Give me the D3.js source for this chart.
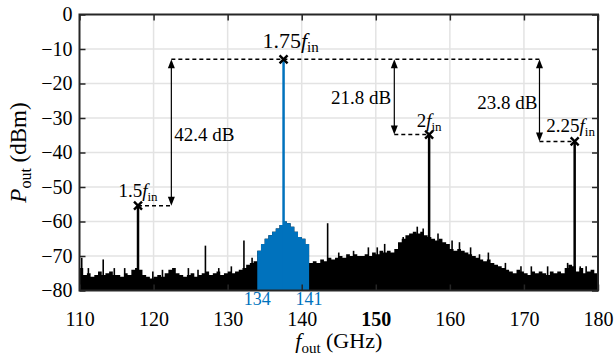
<!DOCTYPE html>
<html>
<head>
<meta charset="utf-8">
<script src="https://cdn.jsdelivr.net/npm/d3@7"></script>
<style>
  body { margin: 0; background: #fff; }
  svg, svg text { font-family: 'Liberation Serif', 'Times New Roman', Times, serif; }
  svg { display: block; }
</style>
</head>
<body>
<svg id="chart" width="614" height="356"></svg>
<script>
// axis ticks
const xTicks = [110, 120, 130, 140, 150, 160, 170, 180];
const yTicks = [0, -10, -20, -30, -40, -50, -60, -70, -80];

// noise floor, one value per 0.5 GHz bin starting at 110 GHz (dBm)
const floorStart = 110;
const floorStep = 0.5;
const floorPower = [
  -73.5, -75.5, -75, -76, -75.5, -74.5, -75.5, -75, -74.5, -75.5, -75.5, -76, -75, -75.5, -74, -73.5,
  -74, -75.5, -76, -76.5, -76, -75.5, -76, -75, -74, -73.5, -75, -75.5, -76, -75.5, -75, -76,
  -75.5, -75, -74.5, -75.5, -75, -74.5, -75.5, -75, -74.5, -75, -74.5, -74, -73.5, -72.5, -72, -71.5,
  -68.5, -66.5, -65, -64, -63, -62, -61, -60, -60.5, -61.5, -63, -64.5, -65, -66.5,
  -72, -71.5, -72, -71, -71.5, -70.5, -71, -70.5, -70, -70.5, -69.5, -70, -69.5, -70,
  -70, -69.5, -70, -69, -69.5, -68.5, -69, -68.5, -69, -68, -66, -65, -64, -63.5, -63, -63.5, -63, -64,
  -64.5, -65, -65.5, -65, -66, -66.5, -68, -68.5, -68, -68.5, -69, -69.5, -70, -70.5, -71, -71.5, -71, -72, -72.5, -73,
  -73.5, -74, -74.5, -75, -74, -74.5, -75, -75.5, -74.5, -75, -74.5, -75, -75.5, -74.5, -75, -74.5, -75, -73.5, -72.5, -73,
  -74.5, -73.5, -75, -74.5, -74, -75
];

// the band that is highlighted (GHz)
const bandEdges = [134, 141];

// narrow spurs above the floor
const spurFreq = [
  110.3, 111.2, 113.2, 114.7, 116.1, 119.9, 121.2, 124.7, 126.0, 127.0, 128.8, 130.5, 132.2, 133.3,
  143.5, 145.0, 147.0, 149.0, 150.2, 151.2, 153.7, 155.6, 156.4, 158.4, 160.3, 161.3, 162.8, 164.0,
  165.2, 167.5, 169.6, 171.0, 173.2, 175.9, 177.6, 178.4
];
const spurPower = [
  -70.5, -73.5, -71, -73.5, -73.5, -74.5, -74, -73.5, -74, -67, -73.5, -73, -65.5, -70.5,
  -60.5, -69, -68.5, -67.5, -67.5, -66.5, -64.5, -61.5, -62, -63.5, -65.5, -66, -67.5, -69.5,
  -69, -72, -73, -73, -73, -72, -73, -73
];

// harmonics of f_in = 78.6 GHz
const harmonicOrder = ['1.5', '1.75', '2', '2.25'];
const harmonicFreq = [117.9, 137.55, 157.2, 176.85];
const harmonicPower = [-55.4, -13, -34.8, -36.8];

// level differences against the 1.75 f_in tone
const deltaFreq = [122.4, 152.5, 172.1];
const deltaTarget = [0, 2, 3];
const deltaLabel = ['42.4 dB', '21.8 dB', '23.8 dB'];

const blue = '#0072BD';
const frameColor = '#262626';
const serif = "'Liberation Serif', 'Times New Roman', Times, serif";
const svg = d3.select('#chart').attr('font-family', serif);

const x = d3.scaleLinear().domain([110, 180]).range([79.5, 598]);
const y = d3.scaleLinear().domain([-80, 0]).range([290.5, 14.5]);

// grid
const grid = svg.append('g').attr('stroke', '#e3e3e3').attr('stroke-width', 1.5);
grid.selectAll('.gx').data(xTicks.slice(1, -1)).join('line')
  .attr('x1', d => x(d)).attr('x2', d => x(d)).attr('y1', y(0)).attr('y2', y(-80));
grid.selectAll('.gy').data(yTicks.slice(1, -1)).join('line')
  .attr('y1', d => y(d)).attr('y2', d => y(d)).attr('x1', x(110)).attr('x2', x(180));

// noise floor as a step area
const bins = floorPower.map((v, i) => ({ f: floorStart + i * floorStep, v }));
bins.push({ f: 180, v: floorPower[floorPower.length - 1] });
const area = d3.area()
  .x(d => x(d.f)).y0(y(-80)).y1(d => y(d.v))
  .curve(d3.curveStepAfter);

svg.append('path').datum(bins).attr('d', area).attr('fill', '#000');

// spurs
svg.append('g').selectAll('line').data(spurFreq).join('line')
  .attr('x1', d => x(d)).attr('x2', d => x(d))
  .attr('y1', y(-80)).attr('y2', (d, i) => y(spurPower[i]))
  .attr('stroke', '#000').attr('stroke-width', 1.6);

const bandBins = bins.filter(d => d.f >= bandEdges[0] && d.f < bandEdges[1]);
bandBins.push({ f: bandEdges[1], v: bandBins[bandBins.length - 1].v });
svg.append('path').datum(bandBins).attr('d', area).attr('fill', blue);

// dashed reference lines
const dash = svg.append('g').attr('stroke', '#000').attr('stroke-width', 1.5)
  .attr('stroke-dasharray', '4,3').attr('fill', 'none');
const ref = harmonicPower[1];
dash.append('line')
  .attr('x1', x(deltaFreq[0])).attr('x2', x(deltaFreq[2]))
  .attr('y1', y(ref)).attr('y2', y(ref));
deltaFreq.forEach((f, i) => {
  const h = deltaTarget[i];
  dash.append('line')
    .attr('x1', x(Math.min(f, harmonicFreq[h]))).attr('x2', x(Math.max(f, harmonicFreq[h])))
    .attr('y1', y(harmonicPower[h])).attr('y2', y(harmonicPower[h]));
});

// harmonic tones
svg.append('g').selectAll('line').data(harmonicFreq).join('line')
  .attr('x1', d => x(d)).attr('x2', d => x(d))
  .attr('y1', y(-80)).attr('y2', (d, i) => y(harmonicPower[i]))
  .attr('stroke', (d, i) => i === 1 ? blue : '#000')
  .attr('stroke-width', 2.5);

// markers
svg.append('g').selectAll('path').data(harmonicFreq).join('path')
  .attr('transform', (d, i) => `translate(${x(d)},${y(harmonicPower[i])})`)
  .attr('d', 'M-4,-4L4,4M-4,4L4,-4')
  .attr('stroke', '#000').attr('stroke-width', 2.4);

// double arrows
const arrows = svg.append('g');
deltaFreq.forEach((f, i) => {
  const h = deltaTarget[i];
  const ax = x(f), yTop = y(ref), yBot = y(harmonicPower[h]);
  arrows.append('line')
    .attr('x1', ax).attr('x2', ax).attr('y1', yTop + 6).attr('y2', yBot - 6)
    .attr('stroke', '#000').attr('stroke-width', 1.2);
  arrows.append('path')
    .attr('d', `M${ax},${yTop}L${ax - 3.5},${yTop + 9}L${ax + 3.5},${yTop + 9}Z`)
    .attr('fill', '#000');
  arrows.append('path')
    .attr('d', `M${ax},${yBot}L${ax - 3.5},${yBot - 9}L${ax + 3.5},${yBot - 9}Z`)
    .attr('fill', '#000');
});

// delta labels
const deltaAnchor = ['start', 'end', 'end'];
const deltaDx = [3, -3, -2];
const deltaDy = [9, 7, 9];
svg.append('g').selectAll('text').data(deltaLabel).join('text')
  .attr('x', (d, i) => x(deltaFreq[i]) + deltaDx[i])
  .attr('y', (d, i) => (y(ref) + y(harmonicPower[deltaTarget[i]])) / 2 + deltaDy[i])
  .attr('text-anchor', (d, i) => deltaAnchor[i])
  .attr('font-size', 19)
  .text(d => d);

// harmonic labels (the carrier one is set larger, as in the figure)
const labelDx = [0, 7, 0, -4];
const labelDy = [-9, -11, -8, -9];
const labelSize = [19, 22, 19, 19];
const hl = svg.append('g').selectAll('text').data(harmonicOrder).join('text')
  .attr('x', (d, i) => x(harmonicFreq[i]) + labelDx[i])
  .attr('y', (d, i) => y(harmonicPower[i]) + labelDy[i])
  .attr('text-anchor', 'middle')
  .attr('font-size', (d, i) => labelSize[i]);
hl.append('tspan').text(d => d);
hl.append('tspan').attr('font-style', 'italic').text('f');
hl.append('tspan').attr('font-size', (d, i) => Math.round(labelSize[i] * 0.7)).attr('dy', 4).text('in');

// axes with inward ticks
const xAxis = svg.append('g').attr('transform', `translate(0,${y(-80)})`)
  .call(d3.axisBottom(x).tickValues(xTicks).tickSize(-6).tickPadding(21).tickFormat(d3.format('d')));
svg.append('g').attr('transform', `translate(0,${y(0)})`)
  .call(d3.axisTop(x).tickValues(xTicks).tickSize(-6).tickFormat(''));
const yAxis = svg.append('g').attr('transform', `translate(${x(110)},0)`)
  .call(d3.axisLeft(y).tickValues(yTicks).tickSize(-6).tickPadding(7).tickFormat(d => d === 0 ? '0' : '\u2212' + Math.abs(d)));
svg.append('g').attr('transform', `translate(${x(180)},0)`)
  .call(d3.axisRight(y).tickValues(yTicks).tickSize(-6).tickFormat(''));

svg.selectAll('.domain').remove();
svg.selectAll('g').filter(function () { return this.hasAttribute('font-family'); })
  .attr('font-family', serif);
svg.selectAll('.tick line').attr('stroke', frameColor).attr('stroke-width', 1.5);
svg.selectAll('.tick text').attr('fill', '#000').attr('font-size', 20);
xAxis.selectAll('.tick text').attr('font-weight', d => d === 150 ? 'bold' : null);

// frame
svg.append('rect')
  .attr('x', x(110)).attr('y', y(0))
  .attr('width', x(180) - x(110)).attr('height', y(-80) - y(0))
  .attr('fill', 'none').attr('stroke', frameColor).attr('stroke-width', 2);

// band edge labels
svg.append('g').selectAll('text').data(bandEdges).join('text')
  .attr('x', d => x(d)).attr('y', y(-80) + 14)
  .attr('text-anchor', 'middle').attr('fill', blue).attr('font-size', 18)
  .text(d => d);

// axis titles
const xt = svg.append('text')
  .attr('x', (x(110) + x(180)) / 2).attr('y', 348)
  .attr('text-anchor', 'middle').attr('font-size', 22);
xt.append('tspan').attr('font-style', 'italic').text('f');
xt.append('tspan').attr('font-size', 15).attr('dy', 5).text('out');
xt.append('tspan').attr('dy', -5).text(' (GHz)');

const yt = svg.append('text')
  .attr('transform', `translate(26,${(y(0) + y(-80)) / 2}) rotate(-90)`)
  .attr('text-anchor', 'middle').attr('font-size', 23);
yt.append('tspan').attr('font-style', 'italic').text('P');
yt.append('tspan').attr('font-size', 16).attr('dy', 5).text('out');
yt.append('tspan').attr('dy', -5).text(' (dBm)');
</script>
</body>
</html>
